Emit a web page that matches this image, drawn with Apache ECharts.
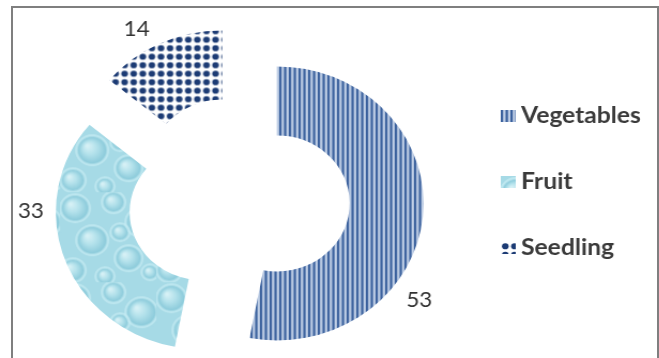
<!DOCTYPE html>
<html><head><meta charset="utf-8">
<script src="https://cdn.jsdelivr.net/npm/echarts@6/dist/echarts.min.js"></script>
<style>
html,body{margin:0;padding:0;background:#fff;width:659px;height:358px;overflow:hidden;position:relative}
#frame{position:absolute;left:11px;top:6px;width:644px;height:400px;border:2px solid #7f7f7f;}
#chart{position:absolute;left:0;top:0;width:616px;height:358px;transform:scaleX(1.07);transform-origin:0 0;}
</style></head><body>
<div id="frame"></div>
<div id="chart"></div>
<script>
// ---- data ----
const categories = ['Vegetables', 'Fruit', 'Seedling'];
const values = [53, 33, 14];

// ---- pattern fills ----
function stripes() {
  const c = document.createElement('canvas'); c.width = 9; c.height = 4;
  const g = c.getContext('2d');
  g.fillStyle = '#c0cfe6'; g.fillRect(0, 0, 9, 4);
  g.fillStyle = '#3a609d'; g.fillRect(0, 0, 2.2, 4); g.fillRect(4.5, 0, 2.2, 4);
  return c;
}
function dots() {
  const c = document.createElement('canvas'); c.width = 17; c.height = 17;
  const g = c.getContext('2d');
  g.fillStyle = '#ffffff'; g.fillRect(0, 0, 17, 17);
  g.fillStyle = '#1c3b74';
  [[4.25, 4.25], [12.75, 4.25], [4.25, 12.75], [12.75, 12.75]].forEach(function (p) {
    g.beginPath(); g.arc(p[0], p[1], 3.1, 0, Math.PI * 2); g.fill();
  });
  return c;
}
function water() {
  const c = document.createElement('canvas'); c.width = 90; c.height = 90;
  const g = c.getContext('2d');
  g.fillStyle = '#a6dae6'; g.fillRect(0, 0, 90, 90);
  const drops = [[14, 16, 12], [50, 10, 9], [76, 30, 13], [30, 48, 13], [64, 66, 11], [12, 78, 10], [42, 84, 7], [84, 80, 6], [56, 40, 7]];
  drops.forEach(function (d) {
    const gr = g.createRadialGradient(d[0] - d[2] * 0.35, d[1] - d[2] * 0.35, 1, d[0], d[1], d[2]);
    gr.addColorStop(0, '#d6f1f6'); gr.addColorStop(0.5, '#b2e1eb'); gr.addColorStop(1, '#8ccbdb');
    g.fillStyle = gr; g.beginPath(); g.arc(d[0], d[1], d[2], 0, Math.PI * 2); g.fill();
    g.strokeStyle = 'rgba(200,236,243,0.7)'; g.lineWidth = 2;
    g.beginPath(); g.arc(d[0], d[1], d[2] + 2, 0, Math.PI * 2); g.stroke();
  });
  return c;
}
const fills = [
  { image: stripes(), repeat: 'repeat' },
  { image: water(), repeat: 'repeat' },
  { image: dots(), repeat: 'repeat' }
];
const labelShift = [[28, 87], [-61, -37], [-35, -43]];

const chart = echarts.init(document.getElementById('chart'), null, { renderer: 'canvas' });
chart.setOption({
  animation: false,
  legend: {
    orient: 'vertical', left: 463, top: 98, itemGap: 40,
    itemWidth: 14, itemHeight: 12, icon: 'rect',
    selectedMode: false,
    textStyle: { fontFamily: 'Lato', fontSize: 23, fontWeight: 'bold', lineHeight: 26, color: '#3a3a3a', padding: [0, 0, 0, 0] },
    data: categories
  },
  series: [{
    type: 'pie',
    center: [223, 200],
    radius: [68, 137],
    startAngle: 90,
    clockwise: true,
    selectedMode: 'multiple',
    selectedOffset: 36,
    avoidLabelOverlap: false,
    label: { show: true, position: 'inside', formatter: '{c}', fontFamily: 'Lato', fontSize: 21, color: '#333333' },
    labelLine: { show: false },
    labelLayout: function (p) { return { dx: labelShift[p.dataIndex][0], dy: labelShift[p.dataIndex][1] }; },
    emphasis: { disabled: true },
    data: categories.map(function (n, i) {
      return { name: n, value: values[i], selected: true, itemStyle: { color: fills[i] } };
    })
  }]
});
</script>
</body></html>
